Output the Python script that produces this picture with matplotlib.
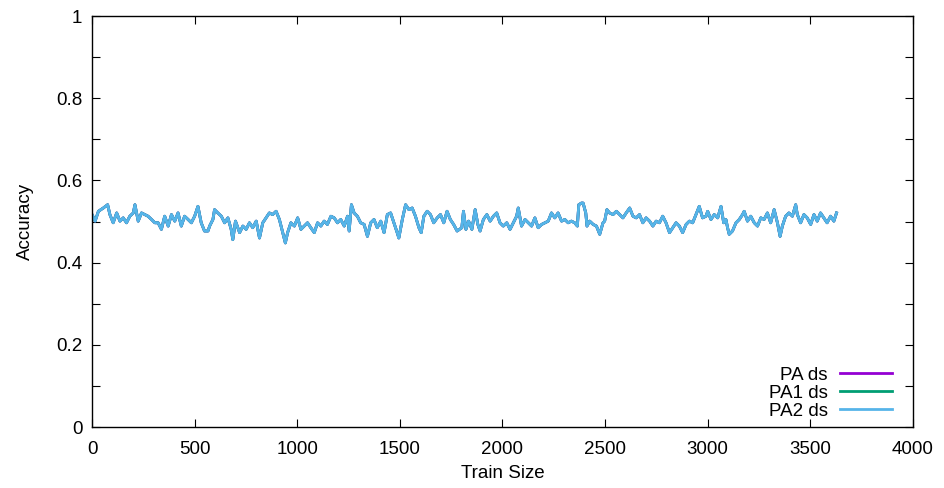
import matplotlib
matplotlib.use('Agg')
import matplotlib.pyplot as plt
from matplotlib.ticker import MultipleLocator

# train size vs accuracy (PA / PA1 / PA2 practically coincide)
train_size = [
    0, 15, 31, 55, 76, 87, 103, 120, 136, 152, 168, 184, 201, 209, 225, 241, 257, 273,
    290, 306, 322, 338, 354, 371, 387, 403, 419, 435, 451, 468, 484, 500, 516, 532, 548,
    565, 573, 589, 597, 613, 630, 646, 662, 678, 686, 699, 719, 735, 751, 767, 783, 800,
    816, 832, 848, 864, 880, 897, 913, 929, 942, 953, 969, 986, 1002, 1018, 1034, 1050,
    1066, 1083, 1099, 1115, 1131, 1147, 1164, 1180, 1196, 1212, 1229, 1245, 1253, 1264,
    1277, 1293, 1309, 1326, 1342, 1358, 1374, 1390, 1407, 1423, 1439, 1455, 1471, 1487,
    1495, 1512, 1528, 1544, 1560, 1576, 1593, 1604, 1617, 1633, 1649, 1665, 1682, 1698,
    1714, 1730, 1746, 1762, 1779, 1802, 1810, 1822, 1835, 1851, 1867, 1880, 1891, 1907,
    1924, 1940, 1956, 1972, 1988, 2004, 2021, 2037, 2053, 2069, 2077, 2093, 2110, 2126,
    2142, 2158, 2174, 2191, 2207, 2223, 2239, 2255, 2271, 2288, 2304, 2320, 2336, 2352,
    2365, 2372, 2385, 2393, 2406, 2412, 2425, 2442, 2458, 2474, 2490, 2498, 2509, 2522,
    2539, 2555, 2571, 2587, 2603, 2620, 2636, 2652, 2668, 2684, 2700, 2717, 2733, 2749,
    2765, 2781, 2797, 2814, 2830, 2846, 2862, 2878, 2895, 2911, 2927, 2943, 2959, 2975,
    2992, 3000, 3016, 3032, 3049, 3065, 3078, 3089, 3097, 3105, 3121, 3138, 3154, 3170,
    3178, 3194, 3210, 3227, 3243, 3259, 3275, 3291, 3307, 3324, 3340, 3353, 3364, 3380,
    3396, 3413, 3429, 3437, 3453, 3469, 3485, 3502, 3518, 3534, 3550, 3566, 3582, 3599,
    3615, 3628,
]
acc_pa = [
    0.517, 0.501, 0.525, 0.533, 0.541, 0.517, 0.497, 0.521, 0.501, 0.509, 0.497, 0.513,
    0.521, 0.541, 0.501, 0.521, 0.517, 0.513, 0.505, 0.497, 0.497, 0.481, 0.513, 0.489,
    0.517, 0.501, 0.521, 0.489, 0.513, 0.505, 0.497, 0.513, 0.537, 0.497, 0.477, 0.477,
    0.489, 0.505, 0.529, 0.521, 0.513, 0.497, 0.509, 0.481, 0.456, 0.501, 0.473, 0.489,
    0.481, 0.497, 0.485, 0.501, 0.460, 0.497, 0.509, 0.521, 0.517, 0.525, 0.505, 0.473,
    0.448, 0.473, 0.497, 0.489, 0.509, 0.481, 0.489, 0.497, 0.485, 0.473, 0.497, 0.489,
    0.501, 0.493, 0.513, 0.509, 0.497, 0.505, 0.489, 0.513, 0.477, 0.541, 0.521, 0.513,
    0.497, 0.493, 0.464, 0.497, 0.505, 0.485, 0.501, 0.473, 0.517, 0.521, 0.497, 0.473,
    0.460, 0.505, 0.541, 0.529, 0.533, 0.513, 0.485, 0.473, 0.513, 0.525, 0.517, 0.497,
    0.509, 0.517, 0.497, 0.525, 0.505, 0.493, 0.477, 0.485, 0.525, 0.481, 0.501, 0.481,
    0.529, 0.493, 0.477, 0.505, 0.517, 0.501, 0.513, 0.521, 0.497, 0.489, 0.497, 0.481,
    0.497, 0.513, 0.533, 0.489, 0.505, 0.497, 0.489, 0.509, 0.485, 0.493, 0.497, 0.501,
    0.521, 0.509, 0.521, 0.501, 0.505, 0.497, 0.501, 0.497, 0.489, 0.541, 0.545, 0.545,
    0.521, 0.489, 0.501, 0.493, 0.489, 0.469, 0.497, 0.501, 0.529, 0.521, 0.517, 0.525,
    0.517, 0.509, 0.521, 0.533, 0.513, 0.509, 0.517, 0.497, 0.509, 0.501, 0.489, 0.501,
    0.497, 0.513, 0.497, 0.473, 0.485, 0.497, 0.489, 0.473, 0.493, 0.501, 0.497, 0.517,
    0.537, 0.509, 0.513, 0.525, 0.505, 0.517, 0.509, 0.537, 0.497, 0.505, 0.485, 0.469,
    0.477, 0.497, 0.505, 0.517, 0.525, 0.501, 0.513, 0.497, 0.489, 0.509, 0.505, 0.521,
    0.497, 0.529, 0.497, 0.464, 0.489, 0.513, 0.521, 0.513, 0.541, 0.517, 0.497, 0.517,
    0.509, 0.493, 0.517, 0.501, 0.521, 0.509, 0.497, 0.513, 0.501, 0.521,
]
acc_pa1 = list(acc_pa)
acc_pa2 = list(acc_pa)

series = [('PA ds', acc_pa, '#9400d3'),
          ('PA1 ds', acc_pa1, '#009e73'),
          ('PA2 ds', acc_pa2, '#56b4e9')]

plt.rcParams['font.family'] = ['Liberation Sans', 'DejaVu Sans']
FS = 13.5

fig = plt.figure(figsize=(9.45, 4.88), dpi=100)
ax = fig.add_axes([0.0974, 0.125, 0.8686, 0.842])

for name, vals, col in series:
    ax.plot(train_size, vals, color=col, linewidth=2.0, label=name)

ax.set_xlim(0, 4000)
ax.set_ylim(0, 1)
ax.xaxis.set_major_locator(MultipleLocator(500))
ax.yaxis.set_minor_locator(MultipleLocator(0.1))
ax.set_yticks([0, 0.2, 0.4, 0.6, 0.8, 1.0])
ax.set_yticklabels(['0', '0.2', '0.4', '0.6', '0.8', '1'])
ax.tick_params(which='both', direction='in', top=True, right=True, length=6,
               width=0.8, labelsize=FS)
ax.tick_params(axis='y', pad=7)
ax.tick_params(axis='x', pad=10)
for s in ax.spines.values():
    s.set_linewidth(1.0)

ax.set_xlabel('Train Size', fontsize=FS, labelpad=5)
ax.set_ylabel('Accuracy', fontsize=FS, labelpad=16)

ax.legend(loc='lower right', bbox_to_anchor=(0.9744, 0.018), frameon=False,
          markerfirst=False, fontsize=FS, handlelength=2.77, handletextpad=0.64,
          labelspacing=0.04, borderpad=0, borderaxespad=0)

fig.savefig('out.png', dpi=100)
